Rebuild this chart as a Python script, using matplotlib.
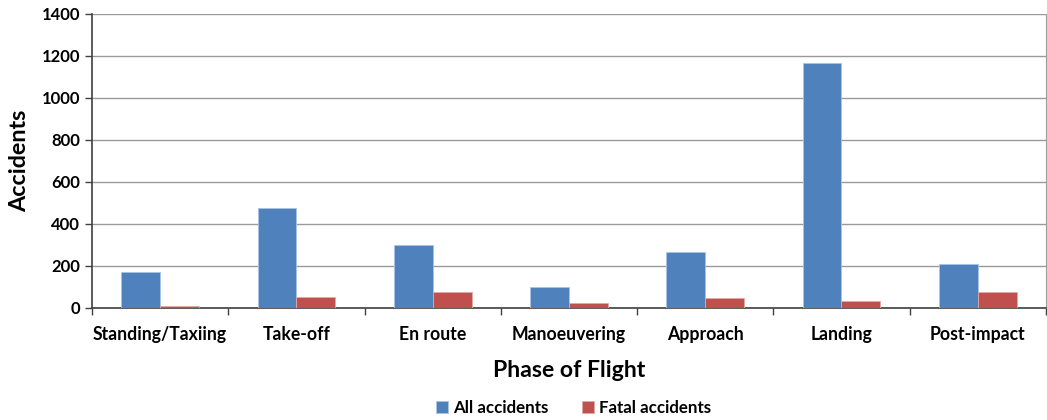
import numpy as np
import matplotlib.pyplot as plt

# data
phases = ['Standing/Taxiing', 'Take-off', 'En route', 'Manoeuvering',
          'Approach', 'Landing', 'Post-impact']
all_accidents = [172, 474, 300, 99, 266, 1166, 210]
fatal_accidents = [10, 50, 78, 24, 46, 32, 78]

plt.rcParams['font.family'] = ['Lato', 'DejaVu Sans']
plt.rcParams['font.weight'] = 'bold'

fig = plt.figure(figsize=(10.47, 4.2), dpi=100)
ax = fig.add_axes([0.0879, 0.2667, 0.911, 0.7])

x = np.arange(len(phases))
w = 0.285
ax.bar(x - w / 2, all_accidents, w, color='#4f81bd', edgecolor='#a9c4e4',
       linewidth=0.6, label='All accidents', zorder=3)
ax.bar(x + w / 2, fatal_accidents, w, color='#c0504d', edgecolor='#e3a9a7',
       linewidth=0.6, label='Fatal accidents', zorder=3)

ax.set_xlim(-0.5, len(phases) - 0.5)
ax.set_ylim(0, 1400)
ax.set_yticks(np.arange(0, 1401, 200))
ax.yaxis.grid(True, color='#9a9a9a', linewidth=1.0, zorder=0)

# ticks on category boundaries, labels at centres
ax.set_xticks(np.arange(-0.5, len(phases), 1.0))
ax.set_xticklabels([])
ax.set_xticks(x, minor=True)
ax.set_xticklabels(phases, minor=True, fontsize=12.7, fontweight='bold')
ax.tick_params(axis='x', which='minor', length=0, pad=13)
ax.tick_params(axis='x', which='major', length=5, width=1, color='#404040',
               direction='out')
ax.tick_params(axis='y', length=5, width=1, color='#404040', labelsize=12)
for lbl in ax.get_yticklabels():
    lbl.set_fontweight('bold')

for s in ['left', 'bottom']:
    ax.spines[s].set_color('#404040')
    ax.spines[s].set_linewidth(1.2)
ax.spines['top'].set_visible(False)
ax.spines['right'].set_color('#9a9a9a')

ax.set_ylabel('Accidents', fontsize=16.8, fontweight='bold', labelpad=8)
ax.set_xlabel('Phase of Flight', fontsize=16.6, fontweight='bold', labelpad=12)

ax.legend(loc='upper center', bbox_to_anchor=(0.505, -0.262), ncol=2,
          frameon=False, handlelength=0.7, handleheight=0.7,
          handletextpad=0.3, columnspacing=2.0,
          prop={'weight': 'bold', 'size': 12.2})

fig.savefig('out.png', dpi=100)
